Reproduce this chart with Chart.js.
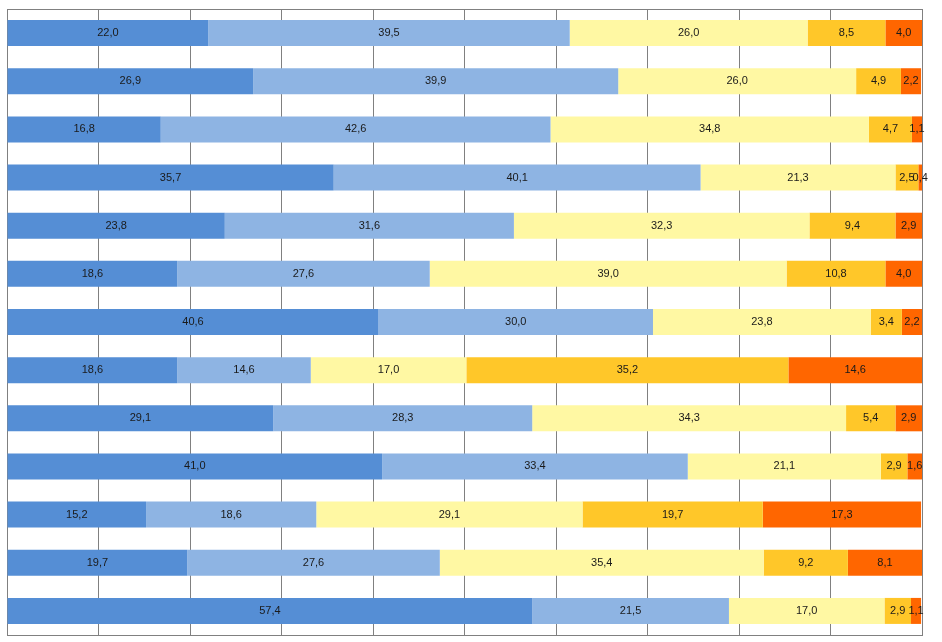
<!DOCTYPE html>
<html>
<head>
<meta charset="utf-8">
<script src="https://cdn.jsdelivr.net/npm/chart.js@4"></script>
<style>
  html, body { margin: 0; padding: 0; background: #fff; }
  #wrap { width: 942px; height: 642px; }
</style>
</head>
<body>
<div id="wrap"><canvas id="myChart" width="942" height="642"></canvas></div>
<script>
// one entry per bar, top to bottom
const categories = ['1', '2', '3', '4', '5', '6', '7', '8', '9', '10', '11', '12', '13'];
const serie1 = [22.0, 26.9, 16.8, 35.7, 23.8, 18.6, 40.6, 18.6, 29.1, 41.0, 15.2, 19.7, 57.4];
const serie2 = [39.5, 39.9, 42.6, 40.1, 31.6, 27.6, 30.0, 14.6, 28.3, 33.4, 18.6, 27.6, 21.5];
const serie3 = [26.0, 26.0, 34.8, 21.3, 32.3, 39.0, 23.8, 17.0, 34.3, 21.1, 29.1, 35.4, 17.0];
const serie4 = [8.5, 4.9, 4.7, 2.5, 9.4, 10.8, 3.4, 35.2, 5.4, 2.9, 19.7, 9.2, 2.9];
const serie5 = [4.0, 2.2, 1.1, 0.4, 2.9, 4.0, 2.2, 14.6, 2.9, 1.6, 17.3, 8.1, 1.1];
const colors = ['#558ed5', '#8eb4e3', '#fff8a3', '#ffc729', '#ff6600'];

// value labels in the middle of each segment, decimal comma
const segmentLabels = {
    id: 'segmentLabels',
    afterDatasetsDraw(chart){
        const ctx = chart.ctx;
        ctx.save();
        ctx.font = '11px "Liberation Sans", Arial, sans-serif';
        ctx.fillStyle = '#1a1a1a';
        ctx.textAlign = 'center';
        ctx.textBaseline = 'middle';
        chart.data.datasets.forEach((ds, i) => {
            chart.getDatasetMeta(i).data.forEach((bar, j) => {
                let cx = (bar.x + bar.base) / 2;
                ctx.fillText(ds.data[j].toFixed(1).replace('.', ','), cx, bar.y);
            });
        });
        ctx.restore();
    }
};

const sets = [serie1, serie2, serie3, serie4, serie5].map((d, i) => ({
    label: 'S' + (i + 1),
    data: d,
    backgroundColor: colors[i],
    borderWidth: 0,
    categoryPercentage: 0.54,
    barPercentage: 1
}));

new Chart('myChart', {
    type: 'bar',
    data: { labels: categories, datasets: sets },
    options: {
        indexAxis: 'y',
        responsive: false,
        animation: false,
        layout: { padding: { left: 7, right: 20, top: 9, bottom: 7 } },
        plugins: { legend: { display: false }, tooltip: { enabled: false } },
        scales: {
            x: {
                stacked: true, min: 0, max: 100,
                ticks: { display: false, stepSize: 10 },
                grid: { color: '#808080', drawTicks: false },
                border: { color: '#808080' }
            },
            x2: {
                position: 'top', min: 0, max: 100,
                ticks: { display: false },
                grid: { display: false, drawTicks: false },
                border: { color: '#808080' }
            },
            y: {
                stacked: true,
                ticks: { display: false },
                grid: { display: false, drawTicks: false },
                border: { color: '#808080' }
            }
        }
    },
    plugins: [segmentLabels]
});
</script>
</body>
</html>
